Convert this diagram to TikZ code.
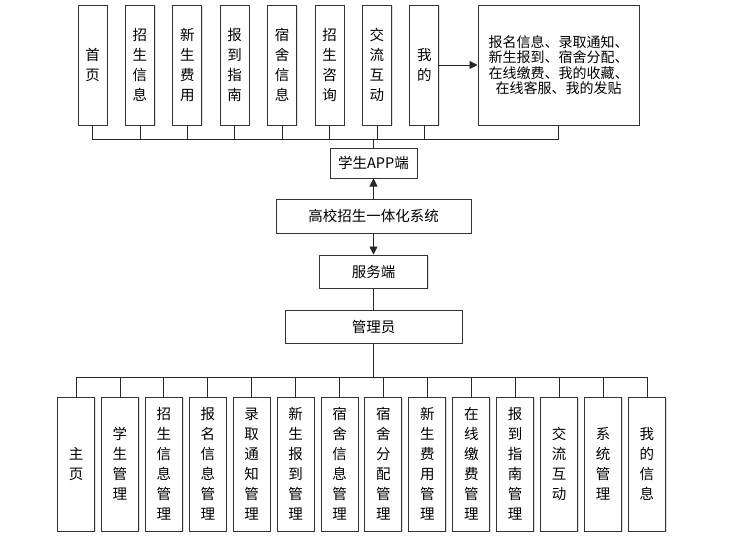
\documentclass[tikz,border=0pt]{standalone}
\usepackage{fontspec}
\newfontfamily\cjk{Noto Sans CJK SC}
\usetikzlibrary{arrows.meta,shadows}
\begin{document}
\begin{tikzpicture}[x=1pt,y=-1pt,
  box/.style={draw=black!80, line width=1pt, fill=white, inner sep=0pt,
    drop shadow={shadow xshift=1.2pt, shadow yshift=-1.2pt, opacity=0.25},
    font=\cjk\fontsize{14.5}{20}\selectfont, align=center},
  vbox/.style={box, minimum width=29pt, minimum height=120pt},
  bbox/.style={box, minimum width=37pt, minimum height=134pt},
  link/.style={draw=black!85, line width=0.7pt},
  arr/.style={link, -{Triangle[length=8pt,width=8pt]}}]
\useasboundingbox (0,0) rectangle (733,544);
% top row
\foreach \t [count=\i from 0] in {首\\页, 招\\生\\信\\息, 新\\生\\费\\用, 报\\到\\指\\南, 宿\\舍\\信\\息, 招\\生\\咨\\询, 交\\流\\互\\动, 我\\的}{
  \node[vbox] (t\i) at ({92.5+\i*47.4},65) {\t};
}
\node[box, minimum width=161pt, minimum height=120pt, font=\cjk\fontsize{14}{15.5}\selectfont] (big) at (558.5,65)
  {报名信息、录取通知、\\新生报到、宿舍分配、\\在线缴费、我的收藏、\\在线客服、我的发贴};
\coordinate (topbus) at (373.5,139);
\node[box, minimum width=87pt, minimum height=30pt] (app) at (373.5,163) {学生APP端};
\node[box, minimum width=195pt, minimum height=34pt] (sys) at (373.5,216) {高校招生一体化系统};
\node[box, minimum width=108pt, minimum height=33pt] (srv) at (373.5,271.5) {服务端};
\node[box, minimum width=177pt, minimum height=33pt] (adm) at (373.5,326.5) {管理员};
\coordinate (botbus) at (373.5,377);
% bottom row
\foreach \t [count=\i from 0] in {主\\页, 学\\生\\管\\理, 招\\生\\信\\息\\管\\理, 报\\名\\信\\息\\管\\理, 录\\取\\通\\知\\管\\理, 新\\生\\报\\到\\管\\理, 宿\\舍\\信\\息\\管\\理, 宿\\舍\\分\\配\\管\\理, 新\\生\\费\\用\\管\\理, 在\\线\\缴\\费\\管\\理, 报\\到\\指\\南\\管\\理, 交\\流\\互\\动, 系\\统\\管\\理, 我\\的\\信\\息}{
  \node[bbox] (b\i) at ({76+\i*43.92},464) {\t};
}
% connectors
\foreach \i in {0,...,7}{ \draw[link] (t\i.south) |- (topbus); }
\draw[link] (big.south) |- (topbus);
\draw[link] (topbus) -- (app.north);
\draw[arr] (t7.east) -- (big.west);
\draw[arr] (sys.north) -- (app.south);
\draw[arr] (sys.south) -- (srv.north);
\draw[link] (srv.south) -- (adm.north);
\draw[link] (adm.south) -- (botbus);
\foreach \i in {0,...,13}{ \draw[link] (botbus) -| (b\i.north); }
\end{tikzpicture}
\end{document}
